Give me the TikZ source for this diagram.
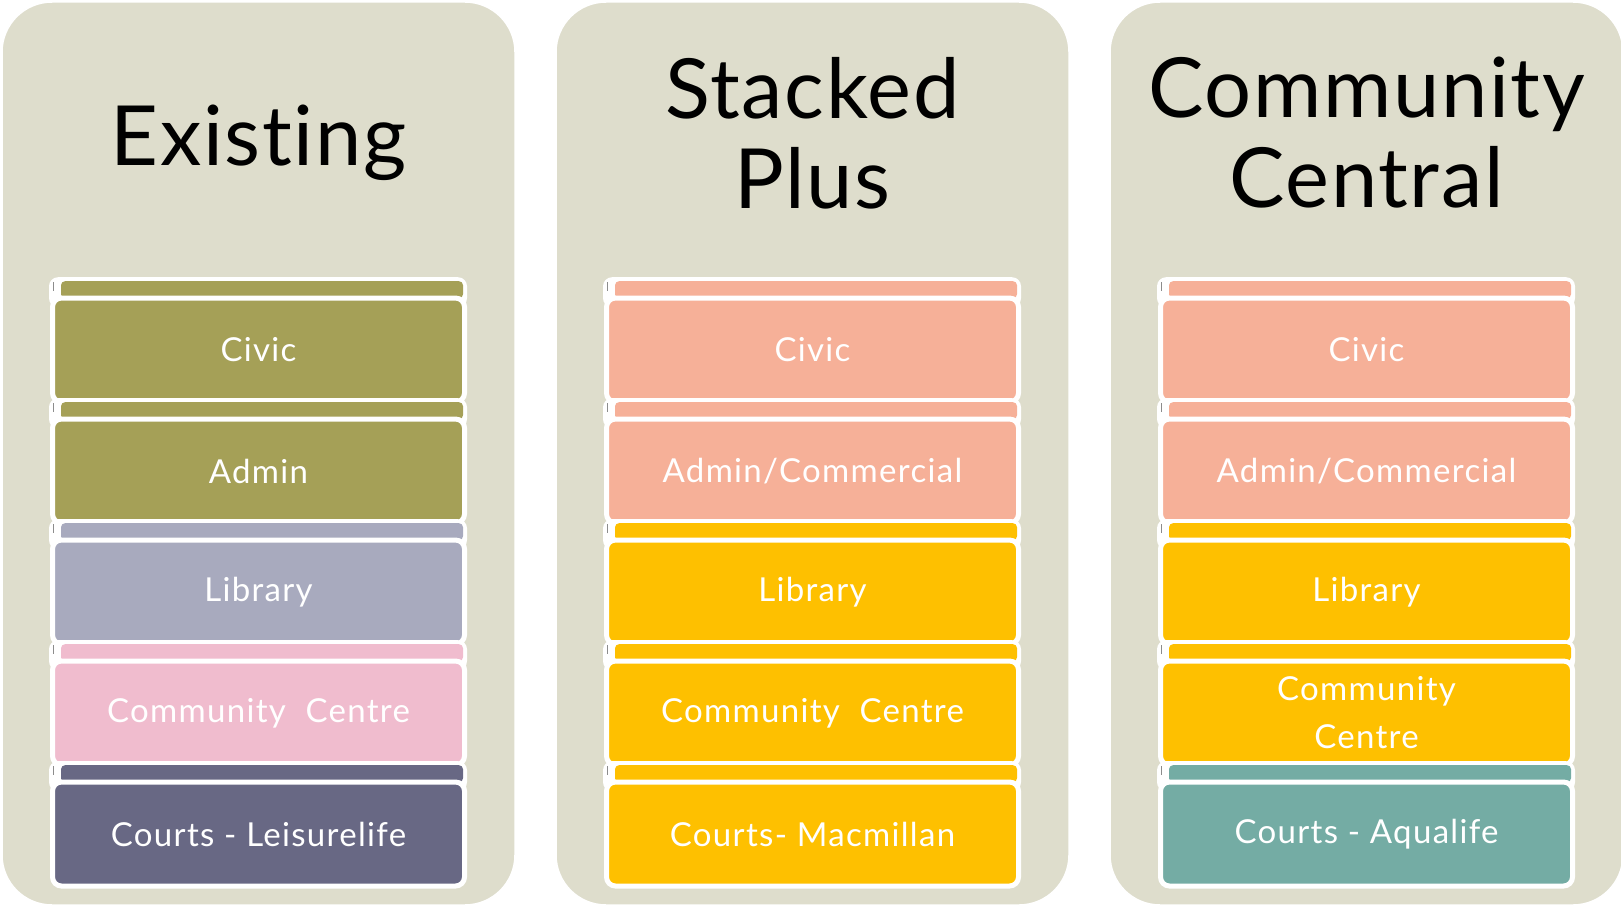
\documentclass[tikz,border=0pt]{standalone}
\usepackage{fontspec}
\setmainfont{Lato}[Ligatures={NoCommon,NoRequired}]
\newfontfamily\titlefamily[LetterSpace=2,Ligatures={NoCommon,NoRequired}]{Lato}
\newfontfamily\boxfamily[LetterSpace=4,Ligatures={NoCommon,NoRequired}]{Lato}

\definecolor{panelbg}{RGB}{222,221,204}
\definecolor{olive}{RGB}{165,160,87}
\definecolor{lavgrey}{RGB}{168,170,190}
\definecolor{softpink}{RGB}{240,188,206}
\definecolor{slate}{RGB}{104,104,132}
\definecolor{salmon}{RGB}{246,176,152}
\definecolor{gold}{RGB}{254,192,0}
\definecolor{teal}{RGB}{116,172,164}

\tikzset{
  panel/.style={fill=panelbg, draw=white, line width=1.5pt, rounded corners=50pt,
    minimum width=513, minimum height=903, inner sep=0pt},
  titletext/.style={font=\titlefamily\fontsize{83}{90}\selectfont, align=center,
    text=black, inner sep=0pt},
  backframe/.style={fill=white, draw=none, rounded corners=9pt,
    minimum width=418, minimum height=30, inner sep=0pt, anchor=north},
  stripbar/.style={draw=none, rounded corners=4pt,
    minimum width=402, minimum height=17, inner sep=0pt, anchor=north},
  stripedge/.style={draw=black!45, line width=1pt},
  frontbox/.style={draw=white, line width=5pt, rounded corners=9pt,
    minimum width=412, minimum height=104, inner sep=0pt, anchor=north,
    text=white, align=center, font=\boxfamily\fontsize{33}{48}\selectfont},
}

% one layer of a stack: panel #1 (0..2), row #2 (0..4), colour #3, label #4
\newcommand\stacklayer[4]{%
  \pgfmathsetmacro\cx{258.5+554*#1}%
  \pgfmathsetmacro\ty{298+121*#2}%
  \node[backframe] (frame-#1-#2) at (\cx-0.5, \ty-21) {};
  \node[stripbar, fill=#3] (bar-#1-#2) at (\cx+3.5, \ty-17) {};
  \draw[stripedge] (\cx-205.5, \ty-16) -- (\cx-205.5, \ty-7);
  \node[frontbox, fill=#3] (box-#1-#2) at (\cx, \ty-2.5) {#4};
}

\begin{document}
\begin{tikzpicture}[x=1pt, y=-1pt]
  \useasboundingbox (0,0) rectangle (1621,907);

  % the three option panels
  \node[panel] (panel-0) at (258.5,453.5) {};
  \node[panel] (panel-1) at (812.5,453.5) {};
  \node[panel] (panel-2) at (1366.5,453.5) {};

  % headings
  \node[titletext, anchor=base] (title-0) at (258.5,165) {Existing};
  \node[titletext] (title-1) at (812.5,133) {Stacked\\Plus};
  \node[titletext] (title-2) at (1366.5,133) {Community\\Central};

  % Existing
  \stacklayer{0}{0}{olive}{Civic}
  \stacklayer{0}{1}{olive}{Admin}
  \stacklayer{0}{2}{lavgrey}{Library}
  \stacklayer{0}{3}{softpink}{Community\ \ Centre}
  \stacklayer{0}{4}{slate}{Courts - Leisurelife}

  % Stacked Plus
  \stacklayer{1}{0}{salmon}{Civic}
  \stacklayer{1}{1}{salmon}{Admin/Commercial}
  \stacklayer{1}{2}{gold}{Library}
  \stacklayer{1}{3}{gold}{Community\ \ Centre}
  \stacklayer{1}{4}{gold}{Courts- Macmillan}

  % Community Central
  \stacklayer{2}{0}{salmon}{Civic}
  \stacklayer{2}{1}{salmon}{Admin/Commercial}
  \stacklayer{2}{2}{gold}{Library}
  \stacklayer{2}{3}{gold}{Community\\Centre}
  \stacklayer{2}{4}{teal}{Courts - Aqualife}
\end{tikzpicture}
\end{document}
